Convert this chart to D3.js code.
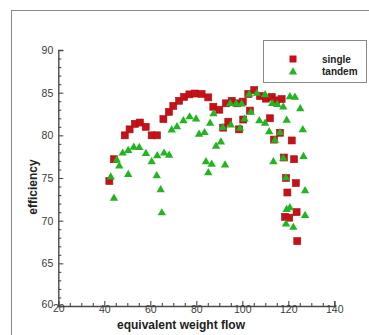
<!DOCTYPE html>
<html>
<head>
<meta charset="utf-8">
<script src="https://cdn.jsdelivr.net/npm/d3@7"></script>
<style>
  html, body { margin: 0; padding: 0; background: #fff; }
  svg { display: block; }
  text { font-family: "Liberation Sans", Arial, sans-serif; }
</style>
</head>
<body>
<svg id="chart" width="369" height="335"></svg>
<script>
// Efficiency versus equivalent weight flow, single vs tandem configurations
const singleFlow = [42.2, 44.2, 48.9, 51.0, 53.3, 55.5, 58.0, 60.6, 62.9, 65.7, 68.1, 70.0, 72.5, 74.7, 77.0, 79.4, 82.3, 85.2, 87.4, 90.0, 92.9, 95.4, 97.8, 100.2, 102.6, 105.2, 107.7, 110.3, 112.8, 114.7, 117.1, 91.7, 93.9, 98.6, 100.4, 103.3, 112.0, 116.4, 113.8, 121.5, 118.1, 122.5, 119.0, 119.6, 123.3, 118.6, 120.4, 123.6, 123.9];
const singleEff  = [74.65, 77.2, 80.0, 80.7, 81.35, 81.5, 81.0, 80.0, 80.0, 81.9, 82.75, 83.45, 84.05, 84.5, 84.8, 84.9, 84.85, 84.45, 83.35, 83.0, 83.75, 84.05, 83.75, 83.95, 84.85, 85.3, 84.6, 84.3, 84.5, 84.1, 84.25, 80.9, 81.6, 80.7, 81.85, 82.9, 82.0, 80.3, 79.5, 79.4, 77.4, 77.2, 75.0, 73.3, 74.4, 70.45, 70.35, 71.0, 67.6];

const tandemFlow = [42.8, 44.2, 45.4, 46.5, 48.0, 50.4, 50.4, 52.8, 55.2, 58.1, 60.6, 62.8, 63.0, 64.5, 65.0, 66.0, 68.2, 69.3, 71.6, 74.4, 77.1, 79.9, 81.2, 83.6, 86.0, 87.5, 88.6, 90.7, 84.2, 86.7, 85.2, 92.5, 91.5, 94.7, 97.3, 99.7, 103.0, 106.3, 109.9, 113.0, 115.2, 95.0, 99.0, 101.0, 103.7, 107.4, 109.9, 111.7, 113.5, 114.2, 116.4, 117.8, 119.0, 117.8, 119.3, 120.7, 122.9, 125.2, 126.3, 126.6, 127.3, 127.3, 119.3, 120.7, 119.0, 122.2];
const tandemEff  = [75.2, 72.7, 77.2, 76.5, 78.0, 78.3, 75.5, 78.7, 78.65, 77.95, 77.0, 75.35, 77.7, 73.7, 71.0, 78.0, 77.75, 80.7, 81.1, 81.8, 82.25, 82.0, 80.2, 80.4, 81.5, 82.6, 78.8, 79.3, 77.0, 76.7, 75.7, 76.6, 81.0, 83.8, 83.75, 83.75, 84.9, 85.0, 84.85, 83.8, 83.7, 81.3, 80.9, 82.0, 82.8, 81.8, 81.5, 80.5, 77.0, 79.5, 80.4, 77.4, 75.1, 83.4, 81.85, 84.6, 84.55, 83.2, 80.75, 77.6, 73.6, 70.7, 71.4, 71.6, 69.7, 69.3];

const xTicks = [20, 40, 60, 80, 100, 120, 140];
const yTicks = [60, 65, 70, 75, 80, 85, 90];
const seriesNames = ["single", "tandem"];

const svg = d3.select("#chart");

// outer frame lines
svg.append("line").attr("x1", 11.5).attr("x2", 11.5).attr("y1", 10).attr("y2", 335)
  .attr("stroke", "#8a8a8a").attr("stroke-width", 1);
svg.append("line").attr("x1", 11.5).attr("x2", 369).attr("y1", 10.5).attr("y2", 10.5)
  .attr("stroke", "#8a8a8a").attr("stroke-width", 1);

const x = d3.scaleLinear().domain([20, 140]).range([58.3, 334.3]);
const y = d3.scaleLinear().domain([60, 90]).range([306, 50]);

const axisColor = "#4a4a4a";
const labelColor = "#3a3a3a";

// minor ticks
const xMinor = d3.range(20, 140.01, 5).filter(v => v % 20 !== 0);
const yMinor = d3.range(60, 90.01, 1).filter(v => v % 5 !== 0);

const gx = svg.append("g").attr("transform", `translate(0,${y(60)})`)
  .call(d3.axisBottom(x).tickValues(xTicks).tickSize(-5).tickPadding(0).tickFormat(d3.format("d")));
svg.append("g").attr("transform", `translate(0,${y(60)})`)
  .call(d3.axisBottom(x).tickValues(xMinor).tickSize(-3).tickFormat(""))
  .call(g => g.select(".domain").remove());

const gy = svg.append("g").attr("transform", `translate(${x(20)},0)`)
  .call(d3.axisLeft(y).tickValues(yTicks).tickSize(-5).tickPadding(5).tickFormat(d3.format("d")));
svg.append("g").attr("transform", `translate(${x(20)},0)`)
  .call(d3.axisLeft(y).tickValues(yMinor).tickSize(-3).tickFormat(""))
  .call(g => g.select(".domain").remove());

svg.selectAll(".domain").attr("stroke", axisColor).attr("stroke-width", 1.4);
svg.selectAll(".tick line").attr("stroke", axisColor).attr("stroke-width", 1.1);
svg.selectAll(".tick text").attr("fill", labelColor).attr("font-size", 10.5)
  .attr("font-family", "'Liberation Sans', Arial, sans-serif");
// the corner label of the y axis sits a little above the crossing
gy.selectAll(".tick text").filter(d => d === 60).attr("dy", "0.1em");
gx.selectAll(".tick text").filter(d => d === 20).attr("dy", "0.6em");

// axis titles
svg.append("text").attr("x", 181).attr("y", 328.5).attr("text-anchor", "middle")
  .attr("font-size", 12).attr("font-weight", "bold").attr("fill", "#222")
  .text("equivalent weight flow");
svg.append("text").attr("transform", "translate(37,187) rotate(-90)").attr("text-anchor", "middle")
  .attr("font-size", 12).attr("font-weight", "bold").attr("fill", "#222")
  .text("efficiency");

// markers
const red = "#c8101a";
const green = "#21b521";
const sq = 7;
const tri = d3.symbol().type(d3.symbolTriangle).size(30);

const singleData = singleFlow.map((f, i) => ({ f, e: singleEff[i] }));
const tandemData = tandemFlow.map((f, i) => ({ f, e: tandemEff[i] }));

svg.append("g").selectAll("rect").data(singleData).join("rect")
  .attr("x", d => x(d.f) - sq / 2).attr("y", d => y(d.e) - sq / 2)
  .attr("width", sq).attr("height", sq)
  .attr("fill", red).attr("stroke", "#a81010").attr("stroke-width", 0.6);

svg.append("g").selectAll("path").data(tandemData).join("path")
  .attr("transform", d => `translate(${x(d.f)},${y(d.e) + 0.8})`)
  .attr("d", tri).attr("fill", green);

// legend
const lg = svg.append("g");
lg.append("rect").attr("x", 263.5).attr("y", 40.5).attr("width", 103).attr("height", 42)
  .attr("fill", "#fff").attr("stroke", "#8a8a8a").attr("stroke-width", 1);
lg.append("rect").attr("x", 293 - sq / 2).attr("y", 59 - sq / 2).attr("width", sq).attr("height", sq)
  .attr("fill", red);
lg.append("path").attr("transform", "translate(293,72)").attr("d", tri).attr("fill", green);
lg.selectAll("text.lab").data(seriesNames).join("text").attr("class", "lab")
  .attr("x", 322).attr("y", (d, i) => 62.5 + i * 12)
  .attr("font-size", 10).attr("font-weight", "bold").attr("fill", "#222")
  .text(d => d);
</script>
</body>
</html>
